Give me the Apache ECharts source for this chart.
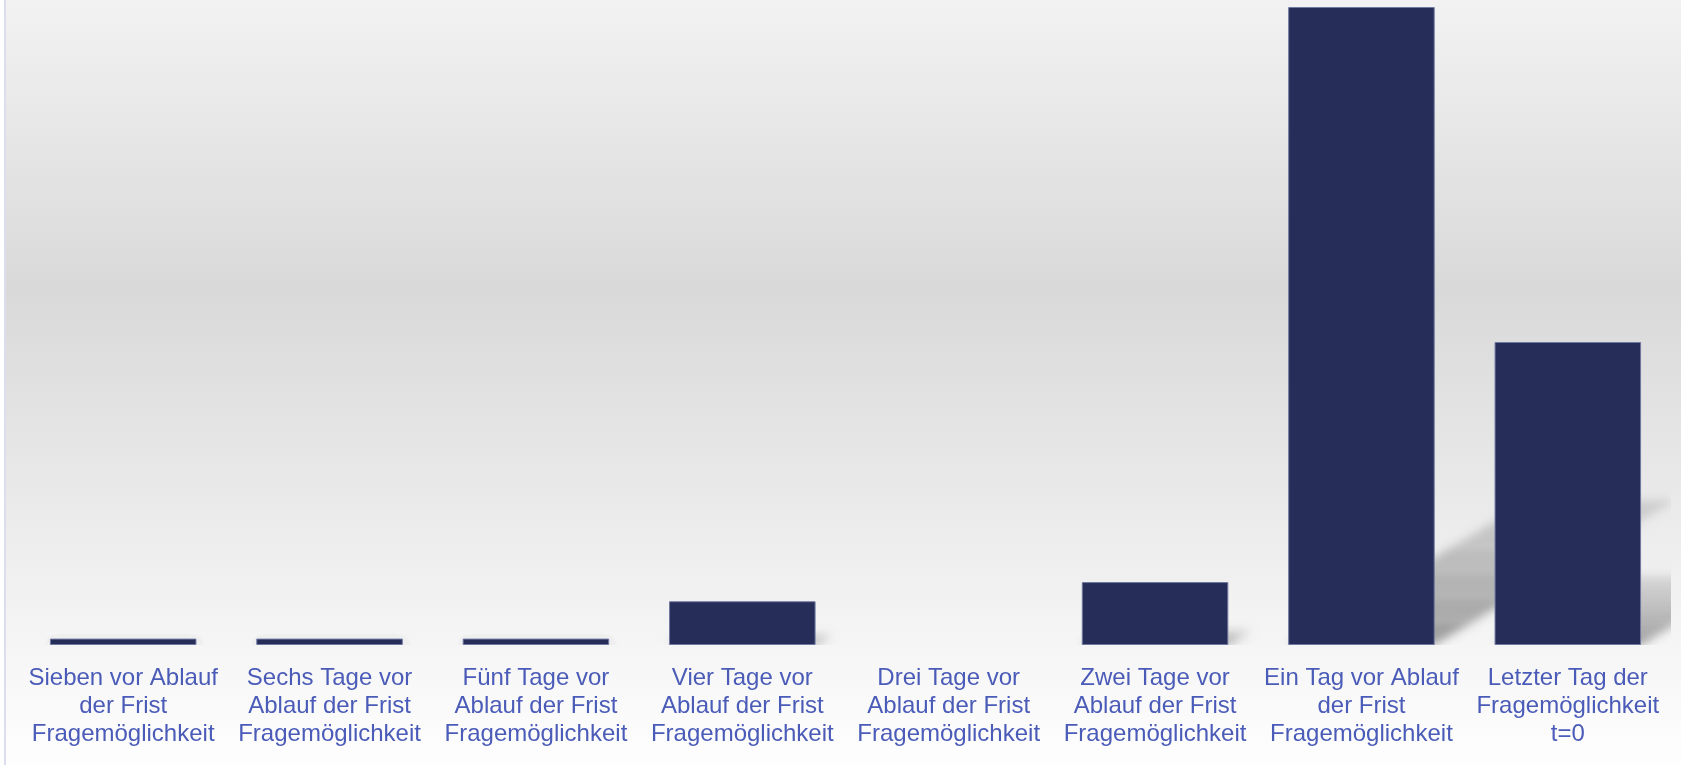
<!DOCTYPE html>
<html>
<head>
<meta charset="utf-8">
<script src="https://cdn.jsdelivr.net/npm/echarts@6/dist/echarts.min.js"></script>
<style>
  html, body { margin: 0; padding: 0; background: #ffffff; }
  #main { width: 1681px; height: 765px; }
</style>
</head>
<body>
<div id="main"></div>
<script>
// Kategorien (Achsenbeschriftung, Zeilenumbrüche wie im Original)
var categories = [
  "Sieben vor Ablauf\nder Frist\nFragemöglichkeit",
  "Sechs Tage vor\nAblauf der Frist\nFragemöglichkeit",
  "Fünf Tage vor\nAblauf der Frist\nFragemöglichkeit",
  "Vier Tage vor\nAblauf der Frist\nFragemöglichkeit",
  "Drei Tage vor\nAblauf der Frist\nFragemöglichkeit",
  "Zwei Tage vor\nAblauf der Frist\nFragemöglichkeit",
  "Ein Tag vor Ablauf\nder Frist\nFragemöglichkeit",
  "Letzter Tag der\nFragemöglichkeit\nt=0"
];
// Anteil in % (aus dem Bild geschätzt)
var values = [0.6, 0.6, 0.6, 4.1, 0, 5.9, 59.8, 28.4];

var barColor = "#252d58";
var labelColor = "#4a5bb8";

var myChart = echarts.init(document.getElementById("main"));

// schräger, weicher Schatten hinter den Balken
// (Form liegt außerhalb, nur der verschobene Canvas-Schatten ist sichtbar)
var OFF = 3000;
var SLICES = 6;
function renderShadow(params, api) {
  var i = api.value(0);
  var v = api.value(1);
  if (!v) return;
  var top = api.coord([i, v]);
  var base = api.coord([i, 0]);
  var w = api.size([1, 0])[0] * 0.707;
  var h = base[1] - top[1];
  var dy = h * 0.227;
  var dx = dy / 0.6;
  var x0 = base[0] - w / 2 - OFF, x1 = base[0] + w / 2 - OFF, y0 = base[1];
  var children = [];
  for (var k = 0; k < SLICES; k++) {
    var ta = k / SLICES, tb = (k + 1) / SLICES;
    var alpha = 0.34 - 0.22 * (k / (SLICES - 1));
    children.push({
      type: "polygon",
      shape: {
        points: [
          [x0 + ta * dx, y0 - ta * dy], [x1 + ta * dx, y0 - ta * dy],
          [x1 + tb * dx, y0 - tb * dy], [x0 + tb * dx, y0 - tb * dy]
        ]
      },
      style: {
        fill: "#000",
        shadowBlur: 10,
        shadowOffsetX: OFF,
        shadowColor: "rgba(0,0,0," + alpha.toFixed(3) + ")"
      }
    });
  }
  return { type: "group", children: children };
}

var option = {
  backgroundColor: "#ffffff",
  animation: false,
  graphic: [
    {
      type: "rect",
      z: -100,
      silent: true,
      shape: { x: 6, y: 0, width: 1675, height: 765 },
      style: {
        fill: new echarts.graphic.LinearGradient(0, 0, 0, 1, [
          { offset: 0, color: "#f2f2f2" },
          { offset: 0.38, color: "#d9d9d9" },
          { offset: 0.82, color: "#f4f4f4" },
          { offset: 1, color: "#fefefe" }
        ])
      }
    },
    {
      type: "rect",
      z: -99,
      silent: true,
      shape: { x: 4, y: 0, width: 2, height: 765 },
      style: { fill: "#dadeef" }
    }
  ],
  grid: { left: 20, right: 10, top: 7, bottom: 120 },
  xAxis: {
    type: "category",
    data: categories,
    axisLine: { show: false },
    axisTick: { show: false },
    axisLabel: {
      interval: 0,
      margin: 19,
      color: labelColor,
      fontFamily: "Liberation Sans, Arial, sans-serif",
      fontSize: 24,
      lineHeight: 28,
      align: "center"
    }
  },
  yAxis: {
    type: "value",
    min: 0,
    max: Math.max.apply(null, values),
    show: false,
    splitLine: { show: false }
  },
  series: [
    {
      type: "custom",
      clip: true,
      z: 1,
      renderItem: renderShadow,
      data: values.map(function (v, i) { return [i, v]; })
    },
    {
      type: "bar",
      z: 3,
      barCategoryGap: "29%",
      data: values.map(function (v) {
        return v === 0 ? { value: v, itemStyle: { borderWidth: 0 } } : v;
      }),
      itemStyle: {
        color: barColor,
        borderColor: "#6f78a0",
        borderWidth: 1
      }
    }
  ]
};

option && myChart.setOption(option);
</script>
</body>
</html>
